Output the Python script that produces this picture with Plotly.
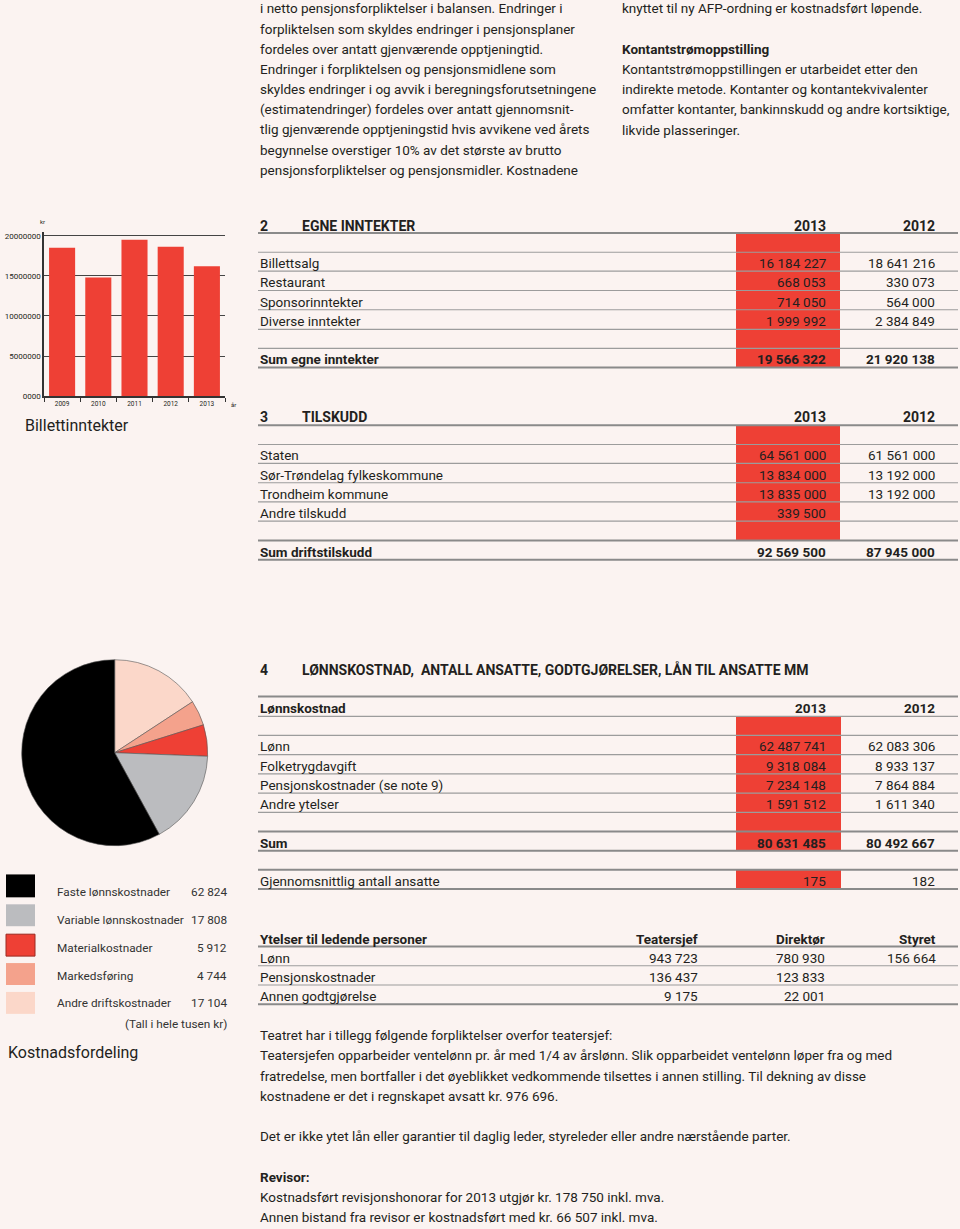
import plotly.graph_objects as go

W, H = 960, 1229
BG = "#FBF3F1"
RED = "#EE4035"
TXT = "#231F20"
FONT = "Roboto"
DY = 1.5  # small vertical nudge for text baselines

# ---------------- data ----------------
bar_years = ["2009", "2010", "2011", "2012", "2013"]
bar_values = [18500000, 14800000, 19500000, 18641216, 16184227]
bar_tickvals = [0, 5000000, 10000000, 15000000, 20000000]
bar_ticktext = ["0000", "5000000", "10000000", "15000000", "20000000"]

pie_labels = ["Faste lønnskostnader", "Variable lønnskostnader", "Materialkostnader",
              "Markedsføring", "Andre driftskostnader"]
pie_values = [62824, 17808, 5912, 4744, 17104]
pie_colors = ["#000000", "#BBBCBF", "#EE4035", "#F4A28C", "#FBD7C9"]

inntekter_labels = ["Billettsalg", "Restaurant", "Sponsorinntekter", "Diverse inntekter"]
inntekter_2013 = [16184227, 668053, 714050, 1999992]
inntekter_2012 = [18641216, 330073, 564000, 2384849]

tilskudd_labels = ["Staten", "Sør-Trøndelag fylkeskommune", "Trondheim kommune", "Andre tilskudd"]
tilskudd_2013 = [64561000, 13834000, 13835000, 339500]
tilskudd_2012 = [61561000, 13192000, 13192000, None]

lonn_labels = ["Lønn", "Folketrygdavgift", "Pensjonskostnader (se note 9)", "Andre ytelser"]
lonn_2013 = [62487741, 9318084, 7234148, 1591512]
lonn_2012 = [62083306, 8933137, 7864884, 1611340]

ansatte = [175, 182]

ytelser_cols = ["Teatersjef", "Direktør", "Styret"]
ytelser_labels = ["Lønn", "Pensjonskostnader", "Annen godtgjørelse"]
ytelser_teatersjef = [943723, 136437, 9175]
ytelser_direktor = [780930, 123833, 22001]
ytelser_styret = [156664, None, None]

top_left_lines = [
    "i netto pensjonsforpliktelser i balansen. Endringer i",
    "forpliktelsen som skyldes endringer i pensjonsplaner",
    "fordeles over antatt gjenværende opptjeningtid.",
    "Endringer i forpliktelsen og pensjonsmidlene som",
    "skyldes endringer i og avvik i beregningsforutsetningene",
    "(estimatendringer) fordeles over antatt gjennomsnit-",
    "tlig gjenværende opptjeningstid hvis avvikene ved årets",
    "begynnelse overstiger 10% av det største av brutto",
    "pensjonsforpliktelser og pensjonsmidler. Kostnadene",
]
top_right_lines = [
    ("knyttet til ny AFP-ordning er kostnadsført løpende.", False, 7),
    ("Kontantstrømoppstilling", True, 48),
    ("Kontantstrømoppstillingen er utarbeidet etter den", False, 68),
    ("indirekte metode. Kontanter og kontantekvivalenter", False, 88),
    ("omfatter kontanter, bankinnskudd og andre kortsiktige,", False, 108),
    ("likvide plasseringer.", False, 129),
]
bottom_lines = [
    ("Teatret har i tillegg følgende forpliktelser overfor teatersjef:", False, 1038),
    ("Teatersjefen opparbeider ventelønn pr. år med 1/4 av årslønn. Slik opparbeidet ventelønn løper fra og med", False, 1058),
    ("fratredelse, men bortfaller i det øyeblikket vedkommende tilsettes i annen stilling. Til dekning av disse", False, 1079),
    ("kostnadene er det i regnskapet avsatt kr. 976 696.", False, 1099),
    ("Det er ikke ytet lån eller garantier til daglig leder, styreleder eller andre nærstående parter.", False, 1139),
    ("Revisor:", True, 1180),
    ("Kostnadsført revisjonshonorar for 2013 utgjør kr. 178 750 inkl. mva.", False, 1200),
    ("Annen bistand fra revisor er kostnadsført med kr. 66 507 inkl. mva.", False, 1220),
]

# ---------------- helpers ----------------
def PX(x):
    return x / W

def PY(y):
    return 1 - y / H

def fmt(v):
    if v is None:
        return ""
    return f"{v:,}".replace(",", " ")

annotations = []
shapes = []

def text(x, y, s, size=13.5, bold=False, anchor="left", color=TXT):
    if bold:
        s = f"<b>{s}</b>"
    annotations.append(dict(x=PX(x), y=PY(y + DY), xref="paper", yref="paper", text=s,
                            showarrow=False, xanchor=anchor, yanchor="middle",
                            font=dict(family=FONT, size=size, color=color)))

def hline(y, thick=False, x0=258, x1=958):
    shapes.append(dict(type="line", xref="paper", yref="paper", x0=PX(x0), x1=PX(x1),
                       y0=PY(y), y1=PY(y),
                       line=dict(color="#8a8a8a" if thick else "#9c9c9c", width=2 if thick else 1.2)))

def rect(x0, y0, x1, y1, color, lc=None, lw=0):
    shapes.append(dict(type="rect", xref="paper", yref="paper", x0=PX(x0), x1=PX(x1),
                       y0=PY(y1), y1=PY(y0), fillcolor=color,
                       line=dict(color=lc or color, width=lw), layer="below"))

fig = go.Figure()

# ---------------- bar chart ----------------
y_top_px, y_bot_px = 232.7, 397.7
fig.add_trace(go.Bar(x=bar_years, y=bar_values, marker=dict(color=RED, line=dict(width=0)),
                     hoverinfo="x+y", showlegend=False))
fig.update_layout(
    xaxis=dict(domain=[PX(44), PX(225)], type="category", showline=True, linecolor="#333",
               linewidth=1.5, ticks="outside", tickson="boundaries", ticklen=4, tickcolor="#333",
               tickfont=dict(family=FONT, size=6.5, color=TXT), showgrid=False, anchor="y"),
    yaxis=dict(domain=[PY(y_bot_px), PY(y_top_px)], range=[0, 20500000], tickvals=bar_tickvals,
               ticktext=bar_ticktext, showgrid=True, gridcolor="#444", gridwidth=1.4,
               showline=True, linecolor="#333", linewidth=1.5, zeroline=False,
               tickfont=dict(family=FONT, size=8, color=TXT), anchor="x", ticks=""),
    bargap=0.28,
)
text(38, 221, "kr", size=6)
text(229, 405, "år", size=6)
text(23, 426, "Billettinntekter", size=16)

# ---------------- pie ----------------
# drawn clockwise from 12 o'clock in reverse legend order
fig.add_trace(go.Pie(labels=pie_labels[::-1], values=pie_values[::-1], sort=False,
                     direction="clockwise", rotation=0,
                     marker=dict(colors=pie_colors[::-1], line=dict(color="#555", width=0.6)),
                     textinfo="none", showlegend=False,
                     domain=dict(x=[PX(21.7), PX(207.7)], y=[PY(849.3), PY(662.3)])))

sq_y = [(878, 901), (908, 930), (938, 960), (967, 989), (996, 1018)]
txt_y = [894, 922, 950, 978, 1006]
for i, lab in enumerate(pie_labels):
    y0, y1 = sq_y[i]
    rect(6, y0, 35, y1, pie_colors[i], lc="#9b2a22" if i == 2 else pie_colors[i], lw=1 if i == 2 else 0)
    text(55, txt_y[i], lab, size=11.8, color="#333")
    text(229, txt_y[i], fmt(pie_values[i]), size=11.8, anchor="right", color="#333")
text(229, 1027, "(Tall i hele tusen kr)", size=11.8, anchor="right", color="#333")
text(6, 1055, "Kostnadsfordeling", size=16)

# ---------------- top texts ----------------
for i, line in enumerate(top_left_lines):
    text(258, 7 + i * 20.25, line, size=13.5)
for line, b, y in top_right_lines:
    text(620, y, line, size=13.5, bold=b)

# ---------------- table helpers ----------------
C13, C12 = 828, 937

def section(header_y, num, title, rows_y, labels, v13, v12, sum_label, sum_y, lines, thick, red):
    text(258, header_y, num, bold=True, size=14)
    text(300, header_y, title, bold=True, size=14)
    text(C13, header_y, "2013", bold=True, size=14, anchor="right")
    text(C12, header_y, "2012", bold=True, size=14, anchor="right")
    rect(736, red[0], 840, red[1], RED)
    for y in lines:
        hline(y, thick=(y in thick))
    for y, lab, a, b in zip(rows_y, labels, v13, v12):
        text(258, y, lab)
        text(C13, y, fmt(a), anchor="right")
        text(C12, y, fmt(b), anchor="right")
    text(258, sum_y, sum_label, bold=True)
    text(C13, sum_y, fmt(sum(v13)), bold=True, anchor="right")
    text(C12, sum_y, fmt(sum(v for v in v12 if v is not None)), bold=True, anchor="right")

# Section 2
l2 = [234, 253.3, 272.3, 291.7, 311, 330.7, 349.7, 369]
section(225, "2", "EGNE INNTEKTER", [262.8, 282, 301.3, 320.8], inntekter_labels,
        inntekter_2013, inntekter_2012, "Sum egne inntekter", 359.3, l2, [234, 369], (234, 369))

# Section 3
l3 = [427, 446.3, 465.3, 484.7, 504, 523.3, 542.7, 562]
section(417, "3", "TILSKUDD", [455.8, 475, 494.3, 513.6], tilskudd_labels,
        tilskudd_2013, tilskudd_2012, "Sum driftstilskudd", 552.3, l3, [427, 542.7, 562], (427, 542.7))

# Section 4
text(258, 671, "4", bold=True, size=14)
text(300, 671, "LØNNSKOSTNAD,&nbsp; ANTALL ANSATTE, GODTGJØRELSER, LÅN TIL ANSATTE MM", bold=True, size=14)
text(258, 709.3, "Lønnskostnad", bold=True)
text(C13, 709.3, "2013", bold=True, anchor="right")
text(C12, 709.3, "2012", bold=True, anchor="right")
rect(736, 719.3, 841, 854.3, RED)
for y in [699.3, 719.3, 738.3, 757.7, 777, 796.3, 815.7, 835, 854.3]:
    hline(y, thick=y in (699.3, 835, 854.3))
for y, lab, a, b in zip([748, 767.3, 786.6, 806], lonn_labels, lonn_2013, lonn_2012):
    text(258, y, lab)
    text(C13, y, fmt(a), anchor="right")
    text(C12, y, fmt(b), anchor="right")
text(258, 844.6, "Sum", bold=True)
text(C13, 844.6, fmt(sum(lonn_2013)), bold=True, anchor="right")
text(C12, 844.6, fmt(sum(lonn_2012)), bold=True, anchor="right")

rect(736, 873.3, 841, 892.7, RED)
hline(873.3, thick=True)
hline(892.7, thick=True)
text(258, 883, "Gjennomsnittlig antall ansatte")
text(C13, 883, fmt(ansatte[0]), anchor="right")
text(C12, 883, fmt(ansatte[1]), anchor="right")

# Ytelser
yc = [700, 827, 938]
text(258, 941, "Ytelser til ledende personer", bold=True)
for x, c in zip(yc, ytelser_cols):
    text(x, 941, c, bold=True, anchor="right")
for y in [950.3, 969.7, 989, 1008.3]:
    hline(y, thick=y in (950.3, 1008.3))
for i, (y, lab) in enumerate(zip([960, 979.4, 998.7], ytelser_labels)):
    text(258, y, lab)
    for x, col in zip(yc, [ytelser_teatersjef, ytelser_direktor, ytelser_styret]):
        text(x, y, fmt(col[i]), anchor="right")

# bottom text
for line, b, y in bottom_lines:
    text(258, y, line, bold=b)

fig.update_layout(width=W, height=H, margin=dict(l=0, r=0, t=0, b=0),
                  paper_bgcolor=BG, plot_bgcolor=BG, annotations=annotations, shapes=shapes,
                  font=dict(family=FONT, color=TXT), showlegend=False)
fig.write_html("out.html", config={"displayModeBar": False},
               post_script="document.body.style.margin='0';document.body.style.overflow='hidden';"
                           "document.body.style.background='" + BG + "';")
